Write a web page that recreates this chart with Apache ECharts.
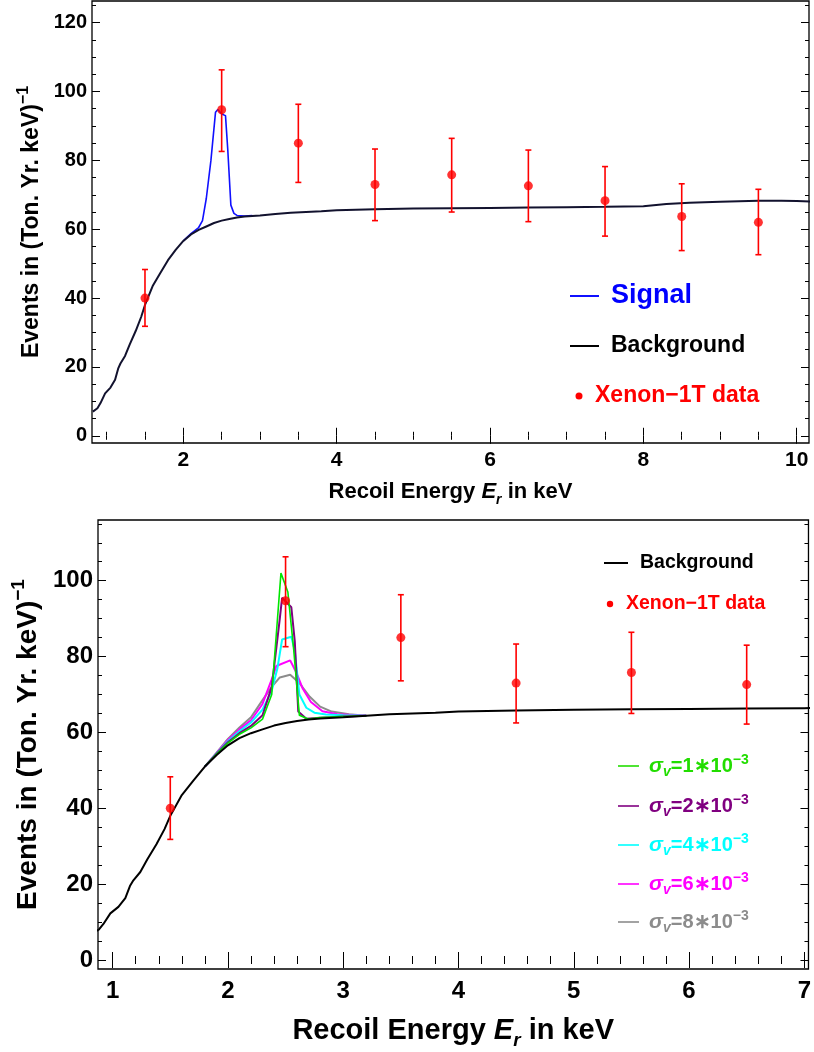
<!DOCTYPE html>
<html><head><meta charset="utf-8">
<script src="https://cdn.jsdelivr.net/npm/echarts@6/dist/echarts.min.js"></script>
<style>html,body{margin:0;padding:0;background:#fff}#c{width:814px;height:1052px}</style>
</head><body><div id="c"></div>
<script>
// ---------- data ----------
const bgX = [0.82,0.88,0.92,0.98,1.05,1.11,1.15,1.18,1.24,1.30,1.38,1.45,1.50,1.60,1.70,1.80,1.90,2.00,2.10,2.20,2.30,2.40,2.50,2.60,2.70,2.80,3.00,3.20,3.40,3.60,3.80,4.00,4.50,5.00,5.50,6.00,6.50,7.00,7.50,8.00,8.30,8.60,9.00,9.50,9.80,10.00,10.20];
const bgY = [7.0,8.0,9.5,12.3,14.0,16.3,19.5,21.0,23.2,26.5,30.5,34.5,38.0,43.5,47.3,51.0,54.0,56.6,58.5,59.8,60.8,61.8,62.5,63.0,63.4,63.7,64.0,64.4,64.8,65.0,65.2,65.5,65.8,66.0,66.1,66.2,66.3,66.4,66.5,66.7,67.3,67.7,68.0,68.3,68.3,68.2,68.0];

// top panel signal
const sigX = [2.00,2.10,2.20,2.25,2.30,2.36,2.42,2.45,2.50,2.55,2.58,2.62,2.66,2.70,2.80,2.90];
const sigY = [56.6,58.7,60.5,62.5,69.0,80.0,94.0,94.8,93.5,93.0,83.0,67.0,64.6,64.0,63.8,64.0];

// bottom panel signals for different sigma_v
const s1X = [1.80,1.90,2.00,2.10,2.20,2.30,2.38,2.46,2.52,2.57,2.62,2.70,2.80,3.00,3.20];
const s1Y = [51.0,54.2,57.2,59.5,61.2,63.5,70.0,102.0,97.0,82.0,64.5,63.5,63.9,64.2,64.4];
const s2X = [1.80,1.90,2.00,2.10,2.20,2.30,2.38,2.45,2.47,2.55,2.58,2.61,2.68,2.80,3.00,3.20];
const s2Y = [51.0,54.3,57.4,59.8,61.7,64.5,72.0,90.0,95.5,93.0,84.0,65.5,63.6,63.9,64.2,64.4];
const s4X = [1.80,1.90,2.00,2.10,2.20,2.30,2.38,2.43,2.47,2.55,2.58,2.62,2.68,2.75,2.85,3.00,3.20];
const s4Y = [51.0,54.4,57.7,60.3,62.6,66.0,71.0,77.0,84.5,85.2,81.5,70.0,66.5,65.2,64.7,64.5,64.4];
const s6X = [1.80,1.90,2.00,2.10,2.20,2.30,2.38,2.42,2.54,2.59,2.65,2.72,2.82,2.95,3.20];
const s6Y = [51.0,54.5,58.0,60.8,63.2,67.5,74.0,77.5,79.0,76.0,71.5,68.0,65.6,64.8,64.4];
const s8X = [1.80,1.90,2.00,2.10,2.20,2.30,2.38,2.45,2.54,2.62,2.71,2.80,2.90,3.05,3.20];
const s8Y = [51.0,54.6,58.3,61.3,64.0,68.5,72.0,74.5,75.2,73.0,69.4,66.8,65.5,64.8,64.4];

// Xenon-1T data
const binX  = [1.5,2.5,3.5,4.5,5.5,6.5,7.5,8.5,9.5];
const binY  = [40.0,94.7,85.0,73.0,75.8,72.6,68.3,63.7,62.0];
const binLo = [31.8,82.6,73.6,62.5,65.0,62.2,58.0,53.8,52.6];
const binHi = [48.3,106.3,96.3,83.3,86.4,83.0,78.2,73.2,71.6];

// ticks
const topXMajor = [2,4,6,8,10];
const topXMinor = [1,1.5,2.5,3,3.5,4.5,5,5.5,6.5,7,7.5,8.5,9,9.5];
const topYMajor = [0,20,40,60,80,100,120];
const topYMinor = [5,10,15,25,30,35,45,50,55,65,70,75,85,90,95,105,110,115,125];
const botXMajor = [1,2,3,4,5,6,7];
const botXMinor = [1.2,1.4,1.6,1.8,2.2,2.4,2.6,2.8,3.2,3.4,3.6,3.8,4.2,4.4,4.6,4.8,5.2,5.4,5.6,5.8,6.2,6.4,6.6,6.8];
const botYMajor = [0,20,40,60,80,100];
const botYMinor = [5,10,15,25,30,35,45,50,55,65,70,75,85,90,95,105,110,115];

// ---------- chart ----------
const FONT = "'Liberation Sans', Arial, Helvetica, sans-serif";
const zip = (xs, ys) => xs.map((x, i) => [x, ys[i]]);
const chart = echarts.init(document.getElementById('c'), null, {renderer: 'canvas'});

const R = {
  top: {xmin: 0.809, xmax: 10.16, ymin: -2.1, ymax: 126.3},
  bot: {xmin: 0.873, xmax: 7.036, ymin: -2.37, ymax: 116.0}
};

function axisSet(dim, g, rng, major, minor, labelSize, margin, name, nameGap) {
  const min = dim === 'x' ? rng.xmin : rng.ymin;
  const max = dim === 'x' ? rng.xmax : rng.ymax;
  const sides = dim === 'x' ? ['bottom', 'top'] : ['left', 'right'];
  const out = [];
  const base = {type: 'value', gridIndex: g, min: min, max: max, splitLine: {show: false},
                axisLine: {show: false}};
  const mk = (side, ticks, len, withLabel) => {
    const a = Object.assign({}, base, {
      position: side,
      axisTick: {show: true, inside: true, length: len, customValues: ticks,
                 lineStyle: {color: '#000', width: 1}},
      axisLabel: withLabel ? {show: true, customValues: major, margin: margin,
                 fontSize: labelSize, fontWeight: 'bold', fontFamily: FONT, color: '#000'} : {show: false}
    });
    if (withLabel && name) {
      a.name = name.text;
      a.nameLocation = 'middle';
      a.nameGap = nameGap;
      a.nameTextStyle = {rich: name.rich};
    }
    return a;
  };
  out.push(mk(sides[0], major, 8, true));
  out.push(mk(sides[0], minor, 4, false));
  out.push(mk(sides[1], major, 8, false));
  out.push(mk(sides[1], minor, 4, false));
  return out;
}

function xName(size) {
  const lh = Math.round(size * 1.35);
  return {
    text: '{b|Recoil Energy }{i|E}{s|r}{b| in keV}',
    rich: {
      b: {fontSize: size, fontWeight: 'bold', fontFamily: FONT, color: '#000', lineHeight: lh, verticalAlign: 'middle'},
      i: {fontSize: size, fontWeight: 'bold', fontStyle: 'italic', fontFamily: FONT, color: '#000', lineHeight: lh, verticalAlign: 'middle'},
      s: {fontSize: Math.round(size * 0.65), fontWeight: 'bold', fontStyle: 'italic', fontFamily: FONT, color: '#000', lineHeight: Math.round(size * 0.65), verticalAlign: 'bottom'}
    }
  };
}
function yName(size) {
  const lh = Math.round(size * 1.35);
  return {
    text: '{b|Events in (Ton. Yr. keV)}{p|−1}',
    rich: {
      b: {fontSize: size, fontWeight: 'bold', fontFamily: FONT, color: '#000', lineHeight: lh, verticalAlign: 'middle'},
      p: {fontSize: Math.round(size * 0.68), fontWeight: 'bold', fontFamily: FONT, color: '#000', lineHeight: Math.round(size * 0.68), verticalAlign: 'top'}
    }
  };
}

const xAxes = [].concat(
  axisSet('x', 0, R.top, topXMajor, topXMinor, 21, 7, xName(22), 34),
  axisSet('x', 1, R.bot, botXMajor, botXMinor, 24, 10, xName(29), 42)
);
const yAxes = [].concat(
  axisSet('y', 0, R.top, topYMajor, topYMinor, 20, 5, yName(23), 44),
  axisSet('y', 1, R.bot, botYMajor, botYMinor, 24, 5, yName(28), 50)
);

function errItem(params, api) {
  const x = api.value(0);
  const pLo = api.coord([x, api.value(2)]);
  const pHi = api.coord([x, api.value(3)]);
  const w = 3;
  const st = {stroke: '#ff0000', lineWidth: 1.6};
  return {type: 'group', children: [
    {type: 'line', shape: {x1: pLo[0], y1: pLo[1], x2: pHi[0], y2: pHi[1]}, style: st},
    {type: 'line', shape: {x1: pLo[0] - w, y1: pLo[1], x2: pLo[0] + w, y2: pLo[1]}, style: st},
    {type: 'line', shape: {x1: pHi[0] - w, y1: pHi[1], x2: pHi[0] + w, y2: pHi[1]}, style: st}
  ]};
}

function bins(xmax) {
  const d = [];
  binX.forEach((x, i) => { if (x <= xmax) d.push([x, binY[i], binLo[i], binHi[i]]); });
  return d;
}

const lineS = (name, xs, ys, color, width, ai, z) => ({
  name: name, type: 'line', xAxisIndex: ai, yAxisIndex: ai, data: zip(xs, ys),
  symbol: 'none', smooth: false, lineStyle: {color: color, width: width}, z: z, clip: true,
  emphasis: {disabled: true}, silent: true
});

const series = [
  // top panel
  lineS('Signal', sigX, sigY, '#1010ff', 1.6, 0, 2),
  lineS('Background', bgX, bgY, '#12122e', 2, 0, 3),
  {type: 'custom', xAxisIndex: 0, yAxisIndex: 0, data: bins(R.top.xmax), renderItem: errItem, z: 4, silent: true},
  {type: 'scatter', xAxisIndex: 0, yAxisIndex: 0, data: bins(R.top.xmax).map(d => [d[0], d[1]]),
   symbolSize: 9, itemStyle: {color: '#ff0000'}, z: 5, silent: true},
  // bottom panel
  lineS('s8', s8X, s8Y, '#8c8c8c', 2, 4, 2),
  lineS('s6', s6X, s6Y, '#ff00ff', 2, 4, 2),
  lineS('s4', s4X, s4Y, '#00ffff', 2, 4, 2),
  lineS('s2', s2X, s2Y, '#800080', 2, 4, 2),
  lineS('s1', s1X, s1Y, '#00e600', 1.6, 4, 2),
  lineS('Background2', bgX, bgY, '#000000', 2, 4, 3),
  {type: 'custom', xAxisIndex: 4, yAxisIndex: 4, data: bins(R.bot.xmax), renderItem: errItem, z: 4, silent: true},
  {type: 'scatter', xAxisIndex: 4, yAxisIndex: 4, data: bins(R.bot.xmax).map(d => [d[0], d[1]]),
   symbolSize: 9, itemStyle: {color: '#ff0000'}, z: 5, silent: true}
];

// legends (graphic)
function txt(x, y, text, size, color) {
  return {type: 'text', x: x, y: y, style: {text: text, fontSize: size, fontWeight: 'bold', fontFamily: FONT,
          fill: color, verticalAlign: 'middle', align: 'left'}, z: 10};
}
function seg(x1, x2, y, color, w) {
  return {type: 'line', shape: {x1: x1, y1: y, x2: x2, y2: y}, style: {stroke: color, lineWidth: w}, z: 10};
}
function dot(cx, cy, r) {
  return {type: 'circle', shape: {cx: cx, cy: cy, r: r}, style: {fill: '#ff0000'}, z: 10};
}
function sigmaLabel(x, y, num, color) {
  const base = {fontWeight: 'bold', fontFamily: FONT, fill: color, lineHeight: 26, verticalAlign: 'middle'};
  return {type: 'text', x: x, y: y, z: 10, style: {
    text: '{g|σ}{v|v}{t|=' + num + '∗10}{e|−3}', fill: color, verticalAlign: 'middle', align: 'left',
    rich: {
      g: Object.assign({}, base, {fontSize: 21, fontStyle: 'italic'}),
      v: Object.assign({}, base, {fontSize: 14, fontStyle: 'italic', lineHeight: 14, verticalAlign: 'bottom'}),
      t: Object.assign({}, base, {fontSize: 20}),
      e: Object.assign({}, base, {fontSize: 14, lineHeight: 14, verticalAlign: 'top'})
    }}};
}
const sigmaNums = ['1','2','4','6','8'];
const sigmaColors = ['#22dd00','#800080','#00ffff','#ff00ff','#8c8c8c'];
const sigmaYs = [766,806,845,884,922];

const graphic = [
  seg(570, 599, 296, '#1010ff', 2), txt(611, 296, 'Signal', 27, '#0000ff'),
  seg(570, 599, 346, '#000', 2), txt(611, 346, 'Background', 23, '#000'),
  dot(579, 396, 3.5), txt(595, 396, 'Xenon−1T data', 23, '#ff0000'),
  seg(604, 628, 563, '#000', 2), txt(640, 563, 'Background', 19.5, '#000'),
  dot(610, 604, 3.2), txt(626, 604, 'Xenon−1T data', 19.5, '#ff0000')
];
sigmaNums.forEach((n, i) => {
  graphic.push(seg(618, 639, sigmaYs[i], sigmaColors[i], 1.6));
  graphic.push(sigmaLabel(649, sigmaYs[i], n, sigmaColors[i]));
});

chart.setOption({
  animation: false,
  backgroundColor: '#fff',
  grid: [
    {left: 92, right: 5, top: 1, height: 442, show: true, borderColor: '#000', borderWidth: 1.3, backgroundColor: 'transparent', containLabel: false},
    {left: 98, right: 2, top: 520, height: 449, show: true, borderColor: '#000', borderWidth: 1.3, backgroundColor: 'transparent', containLabel: false}
  ],
  xAxis: xAxes,
  yAxis: yAxes,
  series: series,
  graphic: graphic
});
</script>
</body></html>
